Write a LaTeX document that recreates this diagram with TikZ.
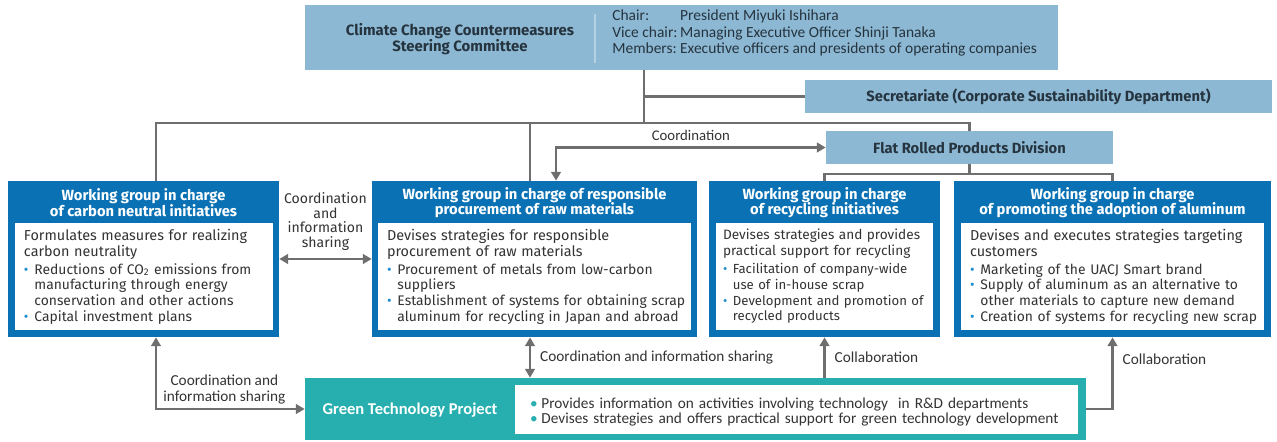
\documentclass[tikz,border=0pt]{standalone}
\usepackage{fontspec}
\setmainfont{Fira Sans}
\newfontfamily\condfont{Carlito}
\usetikzlibrary{arrows.meta,positioning}

\definecolor{hdFill}{HTML}{8CB8D3}
\definecolor{hdText}{HTML}{26343F}
\definecolor{wgBlue}{HTML}{0A72B4}
\definecolor{bulBlue}{HTML}{1D8DCB}
\definecolor{gtTeal}{HTML}{27AFB0}
\definecolor{lineGray}{HTML}{6E6E6E}
\definecolor{bodyText}{HTML}{333333}

\newcommand\hdsize{8.2}
\newcommand\hd[1]{{\fontsize{\hdsize}{9}\selectfont #1\par}\vspace{1.4pt}}
\newcommand\bl[2][bulBlue]{\par\noindent\hangindent=0.75em\hangafter=1\makebox[0.75em][l]{\textcolor{#1}{\textbullet}}#2\par}

\tikzset{
  sz/.style 2 args={minimum width=#1*0.02cm, minimum height=#2*0.02cm},
  hdbox/.style={fill=hdFill, text=hdText, inner sep=0pt, font=\bfseries\fontsize{8.4}{9}\selectfont},
  wgbox/.style={fill=wgBlue, inner sep=0pt},
  wgtitle/.style={text=white, align=center, inner sep=0pt, font=\bfseries\fontsize{8.4}{8.7}\selectfont},
  wgin/.style={fill=white, inner sep=0pt},
  wgtext/.style={anchor=west, text=bodyText, align=left, inner sep=0pt, text width=7cm, font=\fontsize{7.9}{8.9}\selectfont},
  conn/.style={draw=lineGray, line width=1.6pt},
  dbl/.style={{Triangle[length=5pt,width=5.5pt]}-{Triangle[length=5pt,width=5.5pt]}},
  fwd/.style={-{Triangle[length=5pt,width=5.5pt]}},
  lbl/.style={text=bodyText, inner sep=0pt, font=\condfont\fontsize{8.7}{9.2}\selectfont},
}

\begin{document}
\begin{tikzpicture}[x=0.02cm, y=-0.02cm]
%%%%% START %%%%%
\useasboundingbox (0,0) rectangle (1277,442);

% steering committee
\node[hdbox, sz={753}{65}] (cmte) at (681.5,37.5) {};
\node[text=hdText, align=center, inner sep=0pt, font=\bfseries\fontsize{8.5}{9.1}\selectfont] (cmtt) at (460,39) {Climate Change Countermeasures\\Steering Committee};
\draw[white!35!hdFill, line width=0.6pt] (595,14) -- (595,63);
\node[anchor=west, text=hdText, inner sep=0pt, font=\condfont\fontsize{8.8}{9.4}\selectfont] (cmtm) at (612,34) {\begin{tabular}{@{}l@{\hspace{1.5pt}}l@{}}
Chair: & President Miyuki Ishihara\\
Vice chair: & Managing Executive Officer Shinji Tanaka\\
Members: & Executive officers and presidents of operating companies
\end{tabular}};

% secretariate, division
\node[hdbox, sz={467}{33}] (secr) at (1038.5,96.5) {Secretariate (Corporate Sustainability Department)};
\node[hdbox, sz={287}{33}] (flat) at (969.5,147.5) {Flat Rolled Products Division};

% working groups
\node[wgbox, sz={271}{156}] (wg1) at (143.5,259) {};
\node[wgtitle] (wg1t) at (143.5,202.5) {Working group in charge\\of carbon neutral initiatives};
\node[wgin, sz={258}{107}] (wg1in) at (144,276.5) {};
\node[wgtext] (wg1b) at ([xshift=0.18cm]wg1in.west) {\hd{Formulates measures for realizing\\carbon neutrality}%
\bl{Reductions of CO\textsubscript{2} emissions from\newline manufacturing through energy\newline conservation and other actions}%
\bl{Capital investment plans}};

\node[wgbox, sz={325}{156}] (wg2) at (534.5,259) {};
\node[wgtitle] (wg2t) at (534.5,202.5) {Working group in charge of responsible\\procurement of raw materials};
\node[wgin, sz={313}{107}] (wg2in) at (534.5,276.5) {};
\node[wgtext] (wg2b) at ([xshift=0.18cm]wg2in.west) {\hd{Devises strategies for responsible\\procurement of raw materials}%
\bl{Procurement of metals from low-carbon\newline suppliers}%
\bl{Establishment of systems for obtaining scrap\newline aluminum for recycling in Japan and abroad}};

\node[wgbox, sz={231}{156}] (wg3) at (824.5,259) {};
\node[wgtitle] (wg3t) at (824.5,202.5) {Working group in charge\\of recycling initiatives};
\node[wgin, sz={217}{107}] (wg3in) at (824.5,276.5) {};
\node[wgtext, font=\fontsize{7.5}{8.9}\selectfont] (wg3b) at ([xshift=0.14cm]wg3in.west) {\renewcommand\hdsize{7.75}%
\hd{Devises strategies and provides\\practical support for recycling}%
\bl{Facilitation of company-wide\newline use of in-house scrap}%
\bl{Development and promotion of\newline recycled products}};

\node[wgbox, sz={317}{156}] (wg4) at (1112.5,259) {};
\node[wgtitle] (wg4t) at (1112.5,202.5) {Working group in charge\\of promoting the adoption of aluminum};
\node[wgin, sz={303}{107}] (wg4in) at (1112.5,276.5) {};
\node[wgtext] (wg4b) at ([xshift=0.18cm]wg4in.west) {\hd{Devises and executes strategies targeting\\customers}%
\bl{Marketing of the UACJ Smart brand}%
\bl{Supply of aluminum as an alternative to\newline other materials to capture new demand}%
\bl{Creation of systems for recycling new scrap}};

% green technology project
\node[fill=gtTeal, inner sep=0pt, sz={781}{62}] (gt) at (695.5,409) {};
\node[text=white, inner sep=0pt, font=\condfont\bfseries\fontsize{9.4}{10}\selectfont] (gtt) at (410,410) {Green Technology Project};
\node[wgin, sz={563}{49}] (gtin) at (796.5,409.5) {};
\node[wgtext, text width=11cm, font=\condfont\fontsize{8.7}{8.8}\selectfont] (gtb) at ([xshift=0.3cm]gtin.west) {%
\bl[gtTeal]{Provides information on activities involving technology\ \ in R\&D departments}%
\bl[gtTeal]{Devises strategies and offers practical support for green technology development}};

%%%%% CONNECTORS %%%%%
\coordinate (trunk) at (644,123);
\coordinate (rail) at (156,123);
\coordinate (tap2) at (530,123);
\coordinate (crd) at (556,0);
\coordinate (brk) at (969.5,174);

\draw[conn] (cmte.south -| trunk) -- (trunk);
\draw[conn] (secr.west) -- (secr.west -| trunk);
\draw[conn] (wg1.north -| rail) -- (rail) -- (rail -| flat.north) -- (flat.north);
\draw[conn] (tap2) -- (tap2 |- wg2.north);
\draw[conn, dbl] (crd |- wg2.north) -- (crd |- flat.west) -- node[lbl, above=3pt, font=\condfont\fontsize{8.4}{9}\selectfont] (crdl) {Coordination} (flat.west);

\draw[conn] (flat.south) -- (brk);
\draw[conn] (wg3.north) -- (wg3.north |- brk) -- (wg4.north |- brk) -- (wg4.north);

\draw[conn, dbl] (wg1.east) -- node[above=4pt, text=bodyText, inner sep=0pt, align=center, font=\fontsize{8}{8.4}\selectfont] (cisl) {Coordination\\and\\information\\sharing} (wg2.west);

\draw[conn, dbl] (gt.west) -| node[lbl, align=center, pos=0.27, above=2pt] (cis1) {Coordination and\\information sharing} (wg1.south -| rail);
\draw[conn, dbl] (tap2 |- wg2.south) -- node[lbl, right=5pt] (cis2) {Coordination and information sharing} (tap2 |- gt.north);
\draw[conn, fwd] (gt.north -| wg3.south) -- node[lbl, right=5pt] (col1) {Collaboration} (wg3.south);
\draw[conn, fwd] (gt.east) -| node[lbl, pos=0.85, right=5pt] (col2) {Collaboration} (wg4.south);
%%%%% END %%%%%
\end{tikzpicture}
\end{document}
